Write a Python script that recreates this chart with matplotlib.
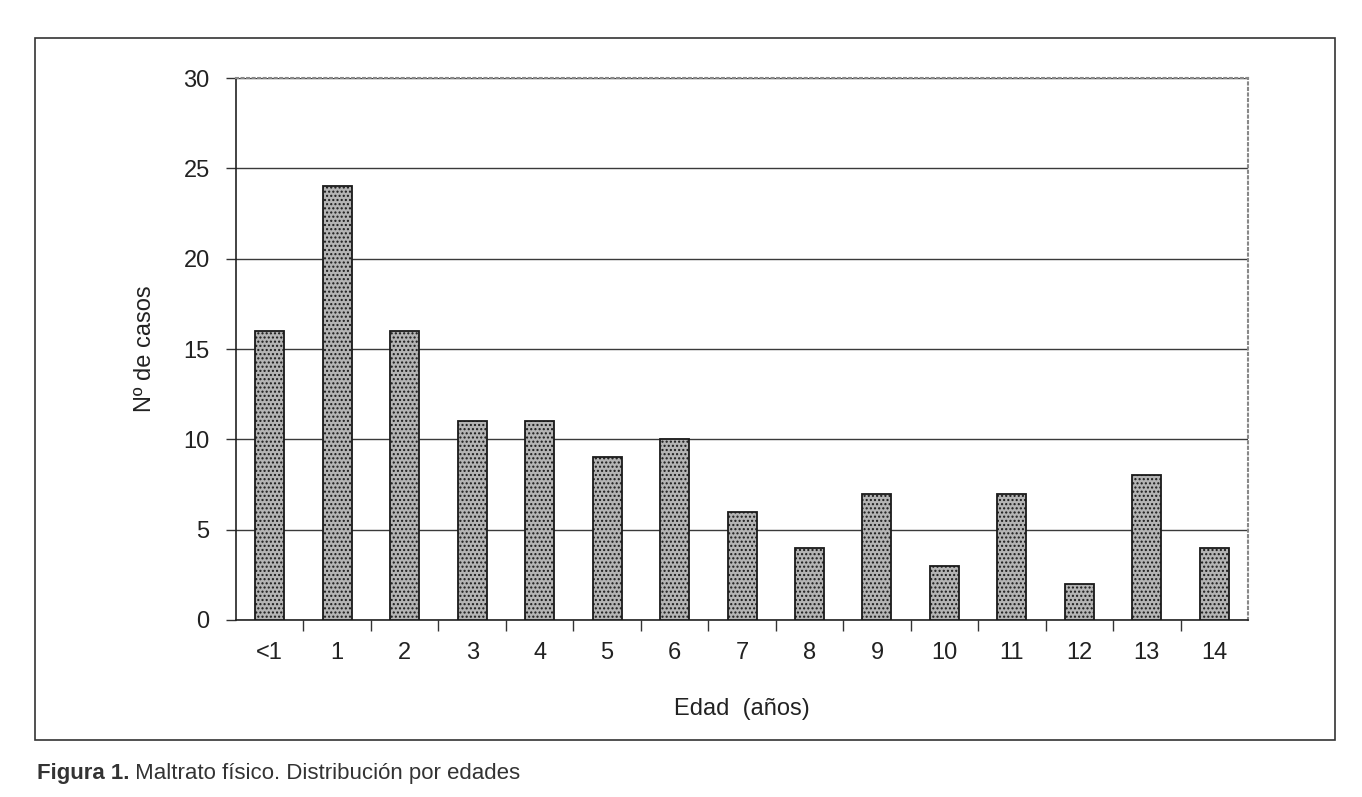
import numpy as np
import matplotlib.pyplot as plt
from matplotlib.patches import Rectangle

plt.rcParams['font.family'] = ['Liberation Sans', 'DejaVu Sans']
plt.rcParams['hatch.color'] = '#8c8c8c'

edades = ['<1', '1', '2', '3', '4', '5', '6', '7', '8', '9', '10', '11', '12', '13', '14']
casos = [16, 24, 16, 11, 11, 9, 10, 6, 4, 7, 3, 7, 2, 8, 4]
y_ticks = [0, 5, 10, 15, 20, 25, 30]

fig = plt.figure(figsize=(13.62, 7.97), dpi=100)
ax = fig.add_axes([0.1733, 0.2221, 0.743, 0.680])

x = np.arange(len(edades))
ax.bar(x, casos, width=0.43, color='#b4b4b4', edgecolor='#1a1a1a',
       linewidth=1.3, hatch='....', zorder=3)

ax.set_xlim(-0.5, len(edades) - 0.5)
ax.set_ylim(0, 30)
ax.set_yticks(y_ticks)
ax.set_yticklabels([str(v) for v in y_ticks], fontsize=17, color='#222222')
ax.set_xticks(x)
ax.set_xticklabels(edades, fontsize=17, color='#222222')
ax.tick_params(axis='x', length=0, pad=16)
# marcas entre categorias
ax.set_xticks(np.arange(0.5, len(edades) - 1, 1), minor=True)
ax.tick_params(axis='x', which='minor', length=8, width=1, color='#333333', direction='out')
ax.tick_params(axis='y', length=7, width=1, color='#333333', direction='out', pad=12)

ax.yaxis.grid(True, color='#3a3a3a', linewidth=1.0, zorder=0)
ax.set_axisbelow(True)

for s in ['left', 'bottom']:
    ax.spines[s].set_color('#222222')
    ax.spines[s].set_linewidth(1.2)
for s in ['top', 'right']:
    ax.spines[s].set_color('#888888')
    ax.spines[s].set_linestyle(':')
    ax.spines[s].set_linewidth(1.5)

ax.set_ylabel('Nº de casos', fontsize=17, color='#222222', labelpad=20)
ax.set_xlabel('Edad  (años)', fontsize=17, color='#222222', labelpad=24)

# marco exterior
fig.patches.append(Rectangle((0.0257, 0.0715), 0.9543, 0.8805, transform=fig.transFigure,
                             fill=False, edgecolor='#333333', linewidth=1.2))

t = fig.text(0.027, 0.022, 'Figura 1.', fontsize=16, fontweight='bold', color='#333333')
ax.annotate(' Maltrato físico. Distribución por edades', xy=(1, 0), xycoords=t,
            fontsize=16, color='#333333', va='bottom', ha='left')

fig.savefig('out.png', dpi=100)
